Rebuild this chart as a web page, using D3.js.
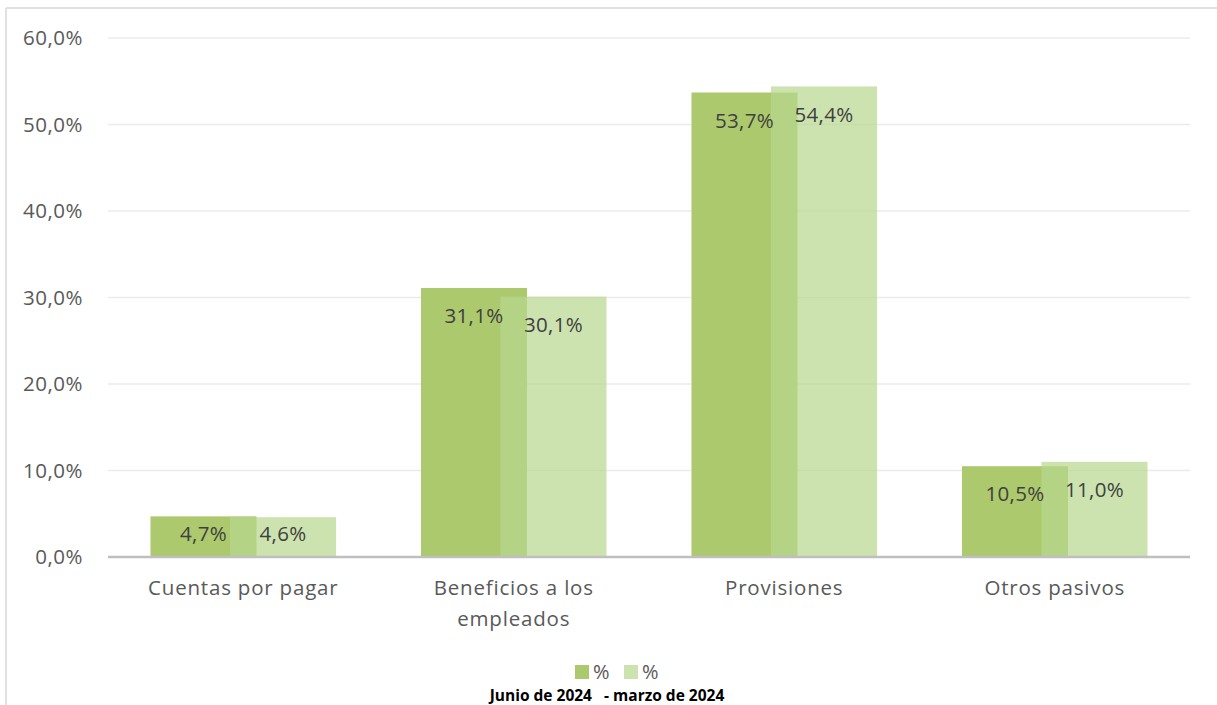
<!DOCTYPE html>
<html>
<head>
<meta charset="utf-8">
<script src="https://cdn.jsdelivr.net/npm/d3@7"></script>
<style>
  body { margin: 0; background: #fff; }
  svg { font-family: "Open Sans", sans-serif; }
</style>
</head>
<body>
<svg id="chart"></svg>
<script>
const categories = [["Cuentas por pagar"], ["Beneficios a los", "empleados"], ["Provisiones"], ["Otros pasivos"]]
const junio = [4.7, 31.1, 53.7, 10.5]
const marzo = [4.6, 30.1, 54.4, 11.0]
const yTicks = [0, 10, 20, 30, 40, 50, 60]
const legendLabels = ["%", "%"]
const subtitle = "Junio de 2024   - marzo de 2024"

const W = 1217, H = 705
const margins = { top: 38, bottom: 148, left: 108, right: 27 }
const colors = ["#adc96e", "#b8d78d"]

const fmt = v => v.toFixed(1).replace(".", ",") + "%"

const svg = d3.select("#chart").attr("width", W).attr("height", H)

// outer frame (only top and left visible)
svg.append("line").attr("x1", 6).attr("x2", W).attr("y1", 8).attr("y2", 8)
    .attr("stroke", "#d9d9d9").attr("stroke-width", 1.5)
svg.append("line").attr("x1", 6).attr("x2", 6).attr("y1", 8).attr("y2", H)
    .attr("stroke", "#d9d9d9").attr("stroke-width", 1.5)

const y = d3.scaleLinear().domain([0, 60]).range([H - margins.bottom, margins.top])
const x = d3.scaleBand().domain(d3.range(categories.length))
    .range([margins.left, W - margins.right])

// grid
svg.append("g").selectAll("line")
    .data(yTicks.slice(1))
    .enter().append("line")
    .attr("x1", margins.left).attr("x2", W - margins.right)
    .attr("y1", d => y(d)).attr("y2", d => y(d))
    .attr("stroke", "#ebebeb").attr("stroke-width", 1.5)

svg.append("g").selectAll("text")
    .data(yTicks)
    .enter().append("text")
    .attr("x", 83).attr("y", d => y(d))
    .attr("dy", "0.35em")
    .attr("text-anchor", "end")
    .attr("font-size", "20.5px")
    .attr("letter-spacing", "0.5px")
    .attr("fill", "#595959")
    .text(d => d.toFixed(1).replace(".", ",") + "%")

// bars
const barW = x.bandwidth() * 0.392
const overlap = barW * 0.25
const groupW = 2 * barW - overlap
const series = [junio, marzo]

series.forEach(function (vals, s) {
    svg.append("g").selectAll("rect")
        .data(vals)
        .enter().append("rect")
        .attr("x", (d, i) => x(i) + (x.bandwidth() - groupW) / 2 + s * (barW - overlap))
        .attr("y", d => y(d))
        .attr("width", barW)
        .attr("height", d => y(0) - y(d))
        .attr("fill", colors[s])
        .attr("fill-opacity", s == 1 ? 0.7 : 1)
})

series.forEach(function (vals, s) {
    svg.append("g").selectAll("text")
        .data(vals)
        .enter().append("text")
        .attr("x", (d, i) => x(i) + (x.bandwidth() - groupW) / 2 + s * (barW - overlap) + barW / 2)
        .attr("y", d => Math.min(y(d) + 28, (y(d) + y(0)) / 2 - 3))
        .attr("dy", "0.35em")
        .attr("text-anchor", "middle")
        .attr("font-size", "20.5px")
        .attr("letter-spacing", "0.3px")
        .attr("fill", "#404040")
        .text(d => fmt(d))
})

// axis line
svg.append("line")
    .attr("x1", margins.left).attr("x2", W - margins.right)
    .attr("y1", y(0)).attr("y2", y(0))
    .attr("stroke", "#bfbfbf").attr("stroke-width", 2.5)

// category labels
const cat = svg.append("g").selectAll("text")
    .data(categories)
    .enter().append("text")
    .attr("x", (d, i) => x(i) + x.bandwidth() / 2)
    .attr("y", 588)
    .attr("text-anchor", "middle")
    .attr("font-size", "20.5px")
    .attr("letter-spacing", "0.8px")
    .attr("fill", "#595959")
cat.selectAll("tspan")
    .data(d => d)
    .enter().append("tspan")
    .attr("x", function () { return d3.select(this.parentNode).attr("x") })
    .attr("dy", (d, i) => i == 0 ? "0.35em" : "31px")
    .text(d => d)

// legend
const legend = svg.append("g").selectAll("g")
    .data(legendLabels)
    .enter().append("g")
    .attr("transform", (d, i) => "translate(" + (575 + i * 49) + ",665)")
legend.append("rect")
    .attr("width", 14).attr("height", 14)
    .attr("fill", (d, i) => i == 0 ? colors[0] : "#cde3af")
legend.append("text")
    .attr("x", 18).attr("y", 7).attr("dy", "0.35em")
    .attr("font-size", "20px")
    .attr("fill", "#595959")
    .text(d => d)

svg.append("text")
    .attr("x", 607).attr("y", 701)
    .attr("text-anchor", "middle")
    .attr("font-size", "15.5px")
    .attr("font-weight", 700)
    .attr("fill", "#000")
    .style("white-space", "pre")
    .text(subtitle)
</script>
</body>
</html>
